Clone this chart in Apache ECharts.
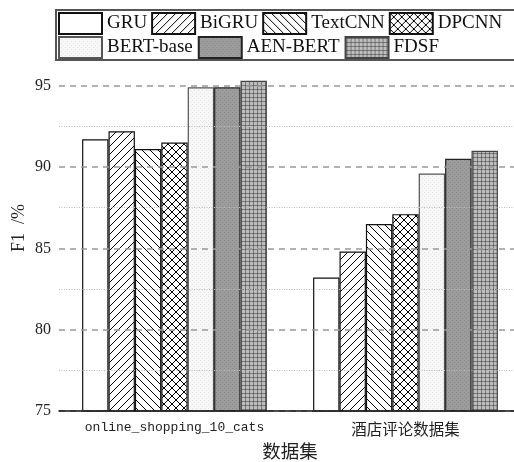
<!DOCTYPE html>
<html><head><meta charset="utf-8">
<script src="https://cdn.jsdelivr.net/npm/echarts@6/dist/echarts.min.js"></script>
<style>html,body{margin:0;padding:0;background:#fff}#c{width:514px;height:462px}</style>
</head><body><div id="c"></div>
<script>
const categories = ['online_shopping_10_cats', '酒店评论数据集'];
const seriesNames = ['GRU', 'BiGRU', 'TextCNN', 'DPCNN', 'BERT-base', 'AEN-BERT', 'FDSF'];
const gru = [91.7, 83.2];
const bigru = [92.2, 84.8];
const textcnn = [91.1, 86.5];
const dpcnn = [91.5, 87.1];
const bertBase = [94.9, 89.6];
const aenBert = [94.9, 90.5];
const fdsf = [95.3, 91.0];
const seriesValues = [gru, bigru, textcnn, dpcnn, bertBase, aenBert, fdsf];
const yTicks = [75, 80, 85, 90, 95];

function tile(size, draw) {
  const c = document.createElement('canvas');
  c.width = size; c.height = size;
  const ctx = c.getContext('2d');
  draw(ctx, size);
  return { image: c, repeat: 'repeat' };
}
function lines(ctx, s, dir) {
  ctx.strokeStyle = '#000'; ctx.lineWidth = 1;
  ctx.beginPath();
  if (dir === '/') {
    for (let k = -1; k <= 1; k++) { ctx.moveTo(k * s, s); ctx.lineTo(k * s + s, 0); }
  } else {
    for (let k = -1; k <= 1; k++) { ctx.moveTo(k * s, 0); ctx.lineTo(k * s + s, s); }
  }
  ctx.stroke();
}
const fills = [
  '#ffffff',
  tile(8, (ctx, s) => { ctx.fillStyle = '#fff'; ctx.fillRect(0, 0, s, s); lines(ctx, s, '/'); }),
  tile(8, (ctx, s) => { ctx.fillStyle = '#fff'; ctx.fillRect(0, 0, s, s); lines(ctx, s, '\\'); }),
  tile(8, (ctx, s) => { ctx.fillStyle = '#fff'; ctx.fillRect(0, 0, s, s); lines(ctx, s, '/'); lines(ctx, s, '\\'); }),
  tile(4, (ctx, s) => { ctx.fillStyle = '#f7f7f7'; ctx.fillRect(0, 0, s, s); ctx.fillStyle = '#e6e6e6'; ctx.fillRect(0, 0, 1, 1); ctx.fillRect(2, 2, 1, 1); }),
  tile(4, (ctx, s) => { ctx.fillStyle = '#9c9c9c'; ctx.fillRect(0, 0, s, s); ctx.fillStyle = '#8a8a8a'; ctx.fillRect(0, 0, 1, 1); ctx.fillRect(2, 2, 1, 1); }),
  tile(4, (ctx, s) => { ctx.fillStyle = '#bdbdbd'; ctx.fillRect(0, 0, s, s); ctx.fillStyle = '#7a7a7a'; ctx.fillRect(0, 1, s, 1); ctx.fillRect(1, 0, 1, s); ctx.fillStyle = '#555'; ctx.fillRect(1, 1, 1, 1); })
];
const borders = ['#111', '#111', '#111', '#111', '#555', '#222', '#444'];

const chart = echarts.init(document.getElementById('c'), null, { renderer: 'canvas' });
const serif = '"Liberation Serif", "Times New Roman", serif';
const legendText = { fontFamily: serif, fontSize: 19, color: '#111' };
const series = seriesNames.map((n, i) => ({
  name: n, type: 'bar', data: seriesValues[i],
  barGap: '0%', barCategoryGap: '20%',
  itemStyle: { color: fills[i], borderColor: borders[i], borderWidth: 1.2 },
  emphasis: { disabled: true }
}));
chart.setOption({
  animation: false,
  grid: { left: 59, top: 45, width: 462, bottom: 51, containLabel: false, outerBoundsMode: 'none' },
  graphic: [{
    type: 'rect', z: 8, shape: { x: 56, y: 10, width: 470, height: 50 },
    style: { fill: '#fff', stroke: '#555', lineWidth: 2 }
  }],
  legend: [
    { data: seriesNames.slice(0, 4), left: 58, top: 12, itemWidth: 43, itemHeight: 21, itemGap: 4,
      icon: 'rect', textStyle: legendText, z: 10, padding: 0 },
    { data: seriesNames.slice(4), left: 58, top: 36, itemWidth: 43, itemHeight: 21, itemGap: 5,
      icon: 'rect', textStyle: legendText, z: 10, padding: 0 }
  ],
  xAxis: {
    type: 'category', data: categories, z: 6,
    axisLine: { show: true, lineStyle: { color: '#111', width: 1.5 } },
    axisTick: { show: false },
    axisLabel: {
      margin: 10,
      formatter: v => /[^\x00-\x7f]/.test(v) ? '{c|' + v + '}' : '{a|' + v + '}',
      rich: {
        a: { fontFamily: '"Liberation Mono", "DejaVu Sans Mono", monospace', fontSize: 13, color: '#222' },
        c: { fontFamily: '"Noto Sans CJK SC"', fontSize: 15.5, color: '#222' }
      }
    },
    name: '数据集', nameLocation: 'middle', nameGap: 31,
    nameTextStyle: { fontFamily: '"Noto Sans CJK SC"', fontSize: 18.5, color: '#222' }
  },
  yAxis: {
    type: 'value', min: yTicks[0], max: 97.5, interval: 5, z: 5,
    axisLine: { show: false }, axisTick: { show: false },
    axisLabel: {
      margin: 8, fontFamily: serif, fontSize: 16, color: '#222',
      formatter: v => (yTicks.indexOf(v) >= 0 ? String(v) : '')
    },
    splitLine: { show: true, lineStyle: { color: '#999', width: 1.5, type: [6, 5] } },
    minorTick: { show: false, splitNumber: 2 },
    minorSplitLine: { show: true, lineStyle: { color: '#bbb', width: 1, type: [1, 1.5] } },
    name: 'F1  /%', nameLocation: 'middle', nameGap: 31, nameRotate: 90, nameMoveOverlap: false,
    nameTextStyle: { fontFamily: serif, fontSize: 18, color: '#222' }
  },
  series
});
</script></body></html>
